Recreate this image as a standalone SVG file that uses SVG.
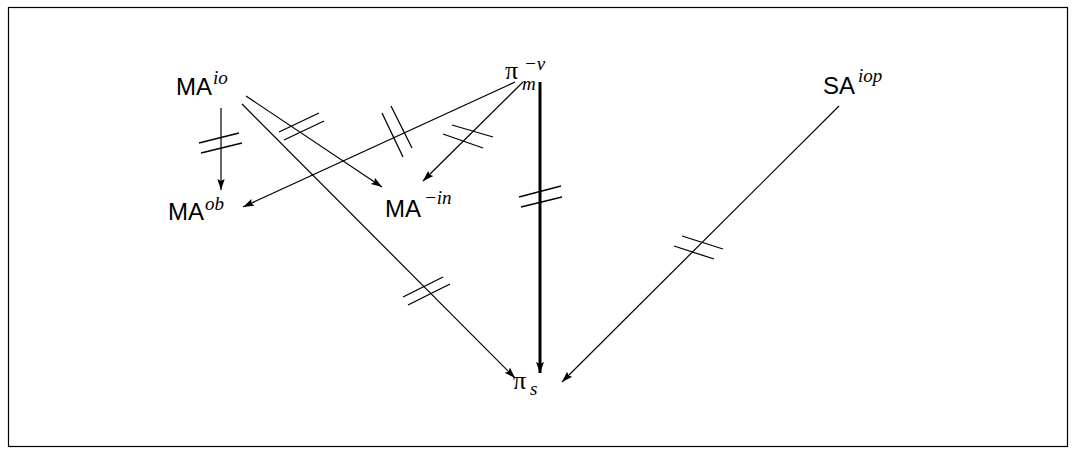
<svg xmlns="http://www.w3.org/2000/svg" width="1077" height="455" viewBox="0 0 1077 455">
<style>
.sans{font-family:"Liberation Sans",Arial,sans-serif;font-size:24px;fill:#000}
.it{font-family:"Liberation Serif","Times New Roman",serif;font-style:italic;font-size:19px;fill:#000}
.pi{font-family:"Liberation Serif","Times New Roman",serif;font-size:26px;fill:#000}
.ln{stroke:#000;stroke-width:1.2;fill:none}
.thick{stroke:#000;stroke-width:3;fill:none}
.hash{stroke:#000;stroke-width:1.3;fill:none}
</style>
<defs>
<marker id="ah" markerUnits="userSpaceOnUse" markerWidth="12" markerHeight="10" viewBox="0 0 12 10" refX="11" refY="5" orient="auto">
<path d="M0,1.3 L11,5 L0,8.7 L2,5 Z" fill="#000"/>
</marker>
<marker id="ahb" markerUnits="userSpaceOnUse" markerWidth="12" markerHeight="10" viewBox="0 0 12 10" refX="11" refY="5" orient="auto">
<path d="M0,1 L11,5 L0,9 L2,5 Z" fill="#000"/>
</marker>
</defs>
<rect x="8.5" y="7.5" width="1059" height="439" fill="#fff" stroke="#000" stroke-width="1.2"/>
<g id="connectors">
<line class="ln" x1="221" y1="108" x2="221" y2="190" marker-end="url(#ah)"/>
<line class="hash" x1="199" y1="143" x2="239" y2="133"/>
<line class="hash" x1="201" y1="153" x2="242" y2="143"/>
<line class="ln" x1="246" y1="96" x2="382" y2="187" marker-end="url(#ah)"/>
<line class="hash" x1="279" y1="132" x2="319" y2="113"/>
<line class="hash" x1="284" y1="140" x2="324" y2="121"/>
<line class="ln" x1="242" y1="104" x2="515" y2="378" marker-end="url(#ah)"/>
<line class="hash" x1="403" y1="297" x2="443" y2="277"/>
<line class="hash" x1="408" y1="305" x2="450" y2="284"/>
<line class="ln" x1="515" y1="82" x2="243" y2="207" marker-end="url(#ah)"/>
<line class="hash" x1="382" y1="113" x2="403" y2="157"/>
<line class="hash" x1="391" y1="106" x2="412" y2="148"/>
<line class="ln" x1="523" y1="82" x2="423" y2="181" marker-end="url(#ah)"/>
<line class="hash" x1="452" y1="125" x2="493" y2="137"/>
<line class="hash" x1="443" y1="134" x2="483" y2="148"/>
<line class="thick" x1="540" y1="82" x2="540" y2="373" marker-end="url(#ahb)"/>
<line class="hash" x1="519" y1="197" x2="561" y2="186"/>
<line class="hash" x1="521" y1="207" x2="562" y2="197"/>
<line class="ln" x1="839" y1="106" x2="562" y2="382" marker-end="url(#ah)"/>
<line class="hash" x1="682" y1="236" x2="723" y2="249"/>
<line class="hash" x1="674" y1="246" x2="714" y2="259"/>
</g>
<g id="MAio"><text class="sans" x="176" y="95">MA</text><text class="it" x="213" y="84">io</text></g>
<g id="pim"><text class="pi" x="505" y="79">π</text><text class="it" x="522" y="90">m</text><text class="it" x="524" y="70">−ν</text></g>
<g id="SAiop"><text class="sans" x="823" y="94">SA</text><text class="it" x="858" y="82">iop</text></g>
<g id="MAob"><text class="sans" x="168" y="220">MA</text><text class="it" x="205" y="210">ob</text></g>
<g id="MAin"><text class="sans" x="385" y="217">MA</text><text class="it" x="424" y="204">−in</text></g>
<g id="pis"><text class="pi" x="513" y="389">π</text><text class="it" x="530" y="395">s</text></g>
</svg>
